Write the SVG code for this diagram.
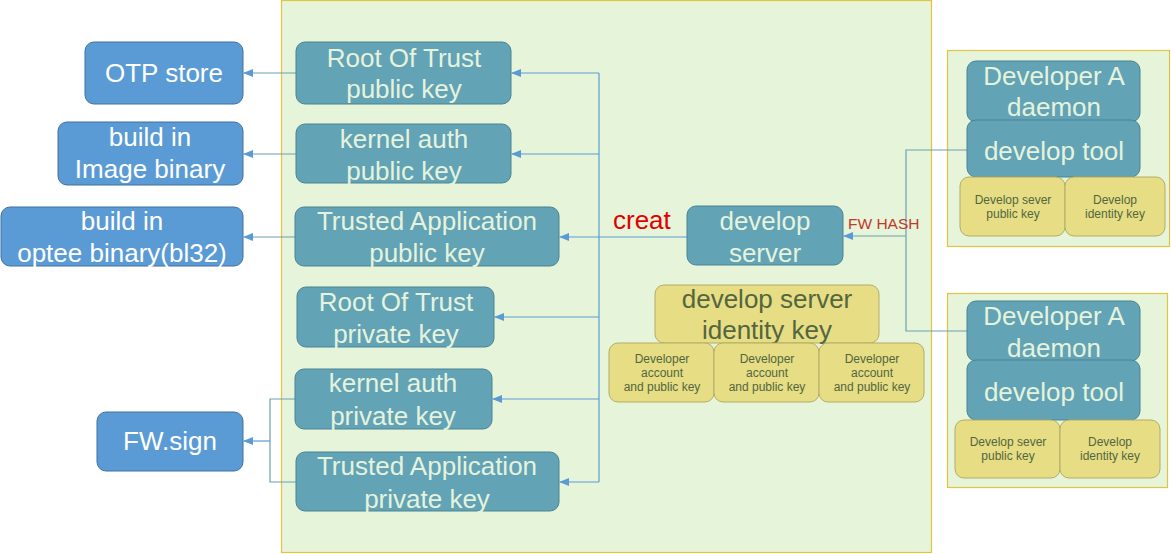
<svg xmlns="http://www.w3.org/2000/svg" width="1171" height="554" viewBox="0 0 1171 554">
<style>
text{font-family:"Liberation Sans",Arial,sans-serif;text-anchor:middle}
.blue{fill:#5b9bd5;stroke:#41719c;stroke-width:1}
.teal{fill:#62a3b6;stroke:#4a8393;stroke-width:1}
.yel{fill:#e6dd84;stroke:#b3ad66;stroke-width:1}
.cont{fill:#e6f4d9;stroke:#e2c440;stroke-width:1.2}
.tw{fill:#ffffff;font-size:26px}
.tt{fill:#e6f3dc;font-size:26px}
.ty{fill:#53663f;font-size:26px}
.ts{fill:#53663f;font-size:12px}
.ln{fill:none;stroke:#5b9bd5;stroke-width:1.2}
.lg{fill:none;stroke:#6d9fb2;stroke-width:1.2}
</style>
<defs>
<marker id="ah" markerWidth="10" markerHeight="8" refX="9" refY="4" orient="auto" markerUnits="userSpaceOnUse">
<path d="M0,0 L10,4 L0,8 z" fill="#5b9bd5"/>
</marker>
</defs>
<rect width="1171" height="554" fill="#ffffff"/>
<g id="containers">
<rect class="cont" x="281.5" y="0.5" width="650" height="552"/>
<rect class="cont" x="947.5" y="50.5" width="222" height="196"/>
<rect class="cont" x="947.5" y="293.5" width="220" height="194"/>
</g>
<g id="connectors">
<path class="ln" d="M599,73 V482"/>
<path class="ln" d="M599,73 H512" marker-end="url(#ah)"/>
<path class="ln" d="M599,154 H512" marker-end="url(#ah)"/>
<path class="ln" d="M687,237 H560" marker-end="url(#ah)"/>
<path class="ln" d="M599,317 H495" marker-end="url(#ah)"/>
<path class="ln" d="M599,399 H493" marker-end="url(#ah)"/>
<path class="ln" d="M599,482 H560" marker-end="url(#ah)"/>
<path class="lg" d="M296,73 H244" marker-end="url(#ah)"/>
<path class="lg" d="M296,154 H244" marker-end="url(#ah)"/>
<path class="lg" d="M295,237 H244" marker-end="url(#ah)"/>
<path class="lg" d="M295,399 H270 V482 H296"/>
<path class="ln" d="M270,441 H244" marker-end="url(#ah)"/>
<path class="lg" d="M967,150 H906 V331 H967"/>
<path class="lg" d="M906,236 H844" marker-end="url(#ah)"/>
<text x="613" y="229" style="text-anchor:start;font-size:26px;fill:#e00000">creat</text>
<text x="848" y="229" style="text-anchor:start;font-size:15.5px;fill:#c0392b">FW HASH</text>
</g>
<g id="otp-store"><rect class="blue" x="85" y="42" width="158" height="62" rx="9"/><text class="tw" x="164" y="82">OTP store</text></g>
<g id="image-binary"><rect class="blue" x="58" y="122" width="185" height="63" rx="9"/><text class="tw" x="150" y="146">build in</text><text class="tw" x="150" y="178">Image binary</text></g>
<g id="optee-binary"><rect class="blue" x="1" y="207" width="242" height="59" rx="9"/><text class="tw" x="122" y="230">build in</text><text class="tw" x="122" y="262">optee binary(bl32)</text></g>
<g id="fw-sign"><rect class="blue" x="97" y="412" width="146" height="59" rx="9"/><text class="tw" x="170" y="450">FW.sign</text></g>
<g id="rot-public"><rect class="teal" x="296" y="42" width="215" height="62" rx="9"/><text class="tt" x="404" y="67">Root Of Trust</text><text class="tt" x="404" y="98">public key</text></g>
<g id="kernel-public"><rect class="teal" x="296" y="124" width="215" height="59" rx="9"/><text class="tt" x="404" y="148">kernel auth</text><text class="tt" x="404" y="180">public key</text></g>
<g id="ta-public"><rect class="teal" x="295" y="207" width="264" height="59" rx="9"/><text class="tt" x="427" y="230">Trusted Application</text><text class="tt" x="427" y="262">public key</text></g>
<g id="rot-private"><rect class="teal" x="297" y="287" width="197" height="60" rx="9"/><text class="tt" x="396" y="311">Root Of Trust</text><text class="tt" x="396" y="343">private key</text></g>
<g id="kernel-private"><rect class="teal" x="295" y="369" width="197" height="60" rx="9"/><text class="tt" x="393" y="392">kernel auth</text><text class="tt" x="393" y="425">private key</text></g>
<g id="ta-private"><rect class="teal" x="296" y="452" width="263" height="59" rx="9"/><text class="tt" x="427" y="475">Trusted Application</text><text class="tt" x="427" y="508">private key</text></g>
<g id="develop-server"><rect class="teal" x="687" y="206" width="156" height="59" rx="9"/><text class="tt" x="765" y="230">develop</text><text class="tt" x="765" y="262">server</text></g>
<g id="identity-key"><rect class="yel" x="655" y="285" width="224" height="58" rx="9"/><text class="ty" x="767" y="308">develop server</text><text class="ty" x="767" y="339">identity key</text></g>
<g id="dev-account-1"><rect class="yel" x="609" y="343" width="105" height="59" rx="9"/><text class="ts" x="662" y="363">Developer</text><text class="ts" x="662" y="377">account</text><text class="ts" x="662" y="391">and public key</text></g>
<g id="dev-account-2"><rect class="yel" x="714" y="343" width="105" height="59" rx="9"/><text class="ts" x="767" y="363">Developer</text><text class="ts" x="767" y="377">account</text><text class="ts" x="767" y="391">and public key</text></g>
<g id="dev-account-3"><rect class="yel" x="819" y="343" width="105" height="59" rx="9"/><text class="ts" x="872" y="363">Developer</text><text class="ts" x="872" y="377">account</text><text class="ts" x="872" y="391">and public key</text></g>
<g id="daemon-1"><rect class="teal" x="967" y="61" width="173" height="61" rx="9"/><text class="tt" x="1054" y="85">Developer A</text><text class="tt" x="1054" y="116">daemon</text></g>
<g id="tool-1"><rect class="teal" x="967" y="120" width="173" height="57" rx="9"/><text class="tt" x="1054" y="160">develop tool</text></g>
<g id="sever-pub-1"><rect class="yel" x="960" y="177" width="105" height="59" rx="9"/><text class="ts" x="1013" y="204">Develop sever</text><text class="ts" x="1013" y="218">public key</text></g>
<g id="ident-1"><rect class="yel" x="1065" y="177" width="100" height="59" rx="9"/><text class="ts" x="1115" y="204">Develop</text><text class="ts" x="1115" y="218">identity key</text></g>
<g id="daemon-2"><rect class="teal" x="967" y="301" width="173" height="60" rx="9"/><text class="tt" x="1054" y="325">Developer A</text><text class="tt" x="1054" y="357">daemon</text></g>
<g id="tool-2"><rect class="teal" x="967" y="360" width="173" height="60" rx="9"/><text class="tt" x="1054" y="401">develop tool</text></g>
<g id="sever-pub-2"><rect class="yel" x="955" y="420" width="105" height="58" rx="9"/><text class="ts" x="1008" y="446">Develop sever</text><text class="ts" x="1008" y="460">public key</text></g>
<g id="ident-2"><rect class="yel" x="1060" y="420" width="100" height="58" rx="9"/><text class="ts" x="1110" y="446">Develop</text><text class="ts" x="1110" y="460">identity key</text></g>
</svg>
